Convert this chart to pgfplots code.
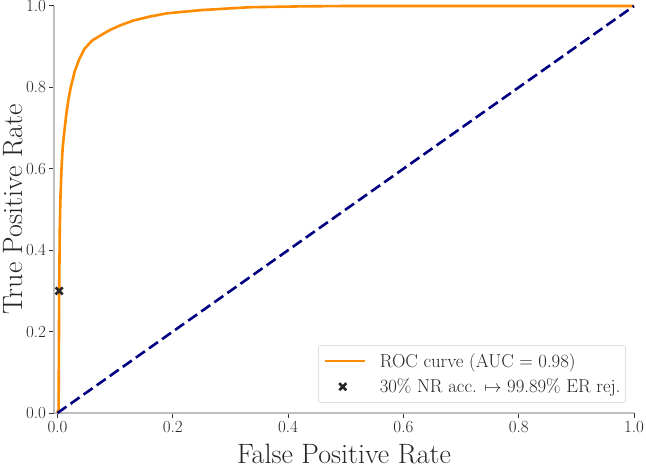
\documentclass[border=0pt]{standalone}
\usepackage{fontspec}
\usepackage{pgfplots}
\pgfplotsset{compat=1.18}
\definecolor{roc}{HTML}{FF8C00}
\definecolor{diag}{HTML}{000080}
\begin{document}
\begin{tikzpicture}
\begin{axis}[
  scale only axis, width=580pt, height=407pt,
  xmin=-0.006, xmax=1.0, ymin=0, ymax=1.0,
  clip=false,
  axis x line*=bottom, axis y line*=left,
  axis line style={draw=black!25, line width=1.4pt, -},
  tick align=outside, major tick length=4.5pt,
  tick style={draw=black!80, line width=1pt},
  xtick={0,0.2,0.4,0.6,0.8,1.0}, ytick={0,0.2,0.4,0.6,0.8,1.0},
  /pgf/number format/assume math mode=true,
  xticklabel style={/pgf/number format/.cd, fixed, fixed zerofill, precision=1},
  yticklabel style={/pgf/number format/.cd, fixed, fixed zerofill, precision=1},
  ticklabel style={font=\fontsize{17}{20}\selectfont, text=black!85},
  xlabel={False Positive Rate}, ylabel={True Positive Rate},
  label style={font=\fontsize{28}{32}\selectfont, text=black!85},
  xlabel style={at={(axis description cs:0.5,-0.125)}, anchor=base},
  ylabel style={at={(axis description cs:-0.055,0.5)}, anchor=base},
  legend cell align=left,
  legend style={at={(0.986,0.025)}, anchor=south east,
    draw=black!12, fill=white, rounded corners=2pt, line width=0.8pt,
    font=\fontsize{18.7}{21}\selectfont, text=black!85,
    inner xsep=5pt, inner ysep=5pt, row sep=4pt, column sep=0pt,
    nodes={inner xsep=0pt, inner ysep=3pt}},
]
\addplot[roc, line width=2.6pt, line join=round,
  legend image code/.code={\draw[roc, line width=2.6pt] (0pt,0pt) -- (40pt,0pt); \path[draw=none] (55pt,0pt) circle (0pt);}]
  coordinates {
  (0.0,0.0) (0.002,0.01) (0.003,0.30) (0.004,0.45) (0.005,0.52) (0.007,0.60)
  (0.009,0.65) (0.011,0.68) (0.015,0.73) (0.019,0.77) (0.023,0.80) (0.030,0.84)
  (0.038,0.87) (0.047,0.895) (0.060,0.915) (0.075,0.928) (0.091,0.941)
  (0.110,0.953) (0.131,0.964) (0.160,0.974) (0.190,0.982) (0.250,0.990)
  (0.334,0.997) (0.42,0.999) (0.50,1.0) (1.0,1.0)};
\addlegendentry{ROC curve (AUC = 0.98)}
\addplot[diag, line width=2.6pt, dash pattern=on 11pt off 5pt, forget plot]
  coordinates {(0,0) (1,1)};
\addplot[only marks, mark=x, mark size=5pt, mark options={line width=2.6pt, draw=black!85},
  legend image code/.code={\path[draw=none] (0pt,0pt) circle (0pt); \path[draw=none] (55pt,0pt) circle (0pt); \path[draw=none, mark=x, mark size=5pt, mark options={draw=black!85, line width=2.6pt}] plot coordinates {(18pt,0pt)};}]
  coordinates {(0.003,0.3)};
\addlegendentry{30\% NR acc. $\mapsto$ 99.89\% ER rej.\hspace{9pt}}
\end{axis}
\pgfresetboundingbox
\path[use as bounding box] (-54pt,-59pt) rectangle (592pt,413pt);
\end{tikzpicture}
\end{document}
